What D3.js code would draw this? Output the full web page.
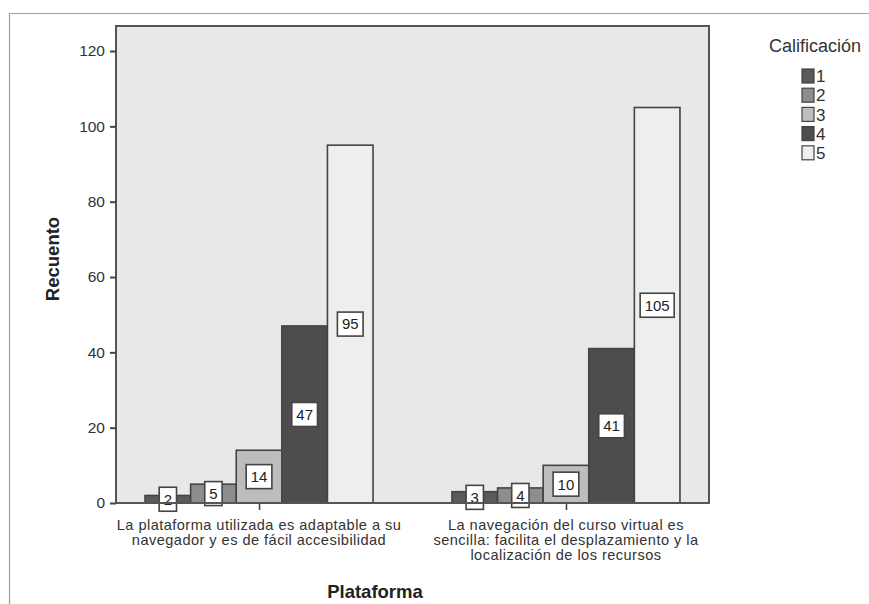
<!DOCTYPE html>
<html>
<head>
<meta charset="utf-8">
<script src="https://cdn.jsdelivr.net/npm/d3@7"></script>
<style>
  html, body { margin: 0; padding: 0; background: #fff; }
  svg { display: block; font-family: "Liberation Sans", Arial, sans-serif; }
</style>
</head>
<body>
<svg id="chart" width="869" height="604"></svg>
<script>
// ---- Data ----
const categories = [
  ["La plataforma utilizada es adaptable a su", "navegador y es de fácil accesibilidad"],
  ["La navegación del curso virtual es", "sencilla: facilita el desplazamiento y la", "localización de los recursos"]
];
const categoryKeys = ["cat1", "cat2"];
const ratings = ["1", "2", "3", "4", "5"];
const values = [
  [2, 5, 14, 47, 95],
  [3, 4, 10, 41, 105]
];
const yTicks = [0, 20, 40, 60, 80, 100, 120];
const colors = ["#5a5a5a", "#8d8d8d", "#bdbdbd", "#4d4d4d", "#eeeeee"];
const legendTitle = "Calificación";
const yTitle = "Recuento";
const xTitle = "Plataforma";

// ---- Layout ----
const svg = d3.select("#chart");
const plot = { left: 116, right: 709, top: 26, bottom: 503 };

// outer frame (cut off at right/bottom)
svg.append("path")
  .attr("d", "M9.5,604 L9.5,13.5 L869,13.5")
  .attr("fill", "none").attr("stroke", "#a0a0a0").attr("stroke-width", 1.2);

const y = d3.scaleLinear().domain([0, 120]).range([plot.bottom, 51]);
const x0 = d3.scalePoint().domain(categoryKeys).range([plot.left, plot.right]).padding(0.466);
const groupWidth = 228;
const x1 = d3.scaleBand().domain(ratings).range([-groupWidth / 2, groupWidth / 2]).padding(0);

// plot background
svg.append("rect")
  .attr("x", plot.left).attr("y", plot.top)
  .attr("width", plot.right - plot.left).attr("height", plot.bottom - plot.top)
  .attr("fill", "#e8e8ea");

// bars
const groups = svg.append("g").selectAll("g")
  .data(categoryKeys).join("g")
  .attr("transform", d => `translate(${x0(d)},0)`);

groups.selectAll("rect.bar")
  .data((d, i) => values[i].map((v, j) => ({ v, r: ratings[j], c: colors[j] })))
  .join("rect").attr("class", "bar")
  .attr("x", d => x1(d.r))
  .attr("width", x1.bandwidth())
  .attr("y", d => y(d.v))
  .attr("height", d => y(0) - y(d.v))
  .attr("fill", d => d.c)
  .attr("stroke", "#444").attr("stroke-width", 1.6);

// plot frame
svg.append("rect")
  .attr("x", plot.left).attr("y", plot.top)
  .attr("width", plot.right - plot.left).attr("height", plot.bottom - plot.top)
  .attr("fill", "none").attr("stroke", "#555").attr("stroke-width", 2);

// value labels
const labels = groups.selectAll("g.lab")
  .data((d, i) => values[i].map((v, j) => ({ v, r: ratings[j] })))
  .join("g").attr("class", "lab")
  .attr("transform", d => `translate(${x1(d.r) + x1.bandwidth() / 2},${(y(d.v) + y(0)) / 2})`);
labels.append("text")
  .attr("text-anchor", "middle").attr("dy", "0.36em")
  .attr("font-size", 15).attr("fill", "#222")
  .text(d => d.v);
labels.each(function () {
  const g = d3.select(this);
  const bb = g.select("text").node().getBBox();
  const w = bb.width + 9, h = 24;
  g.insert("rect", "text")
    .attr("x", -w / 2).attr("y", -h / 2).attr("width", w).attr("height", h)
    .attr("fill", "#fff").attr("stroke", "#444").attr("stroke-width", 1.6);
});

// y axis
const yAxis = svg.append("g")
  .attr("transform", `translate(${plot.left},0)`)
  .call(d3.axisLeft(y).tickValues(yTicks).tickSize(6).tickPadding(5));
yAxis.select(".domain").remove();
yAxis.selectAll("line").attr("stroke", "#444").attr("stroke-width", 2);
yAxis.selectAll("text").attr("font-size", 15.5).attr("fill", "#333")
  .attr("font-family", "Liberation Sans, Arial, sans-serif");

// x axis ticks
const xAxis = svg.append("g")
  .attr("transform", `translate(0,${plot.bottom})`)
  .call(d3.axisBottom(x0).tickSize(7).tickFormat(""));
xAxis.select(".domain").remove();
xAxis.selectAll("line").attr("stroke", "#444").attr("stroke-width", 1.6);

// category labels
categoryKeys.forEach((k, i) => {
  categories[i].forEach((line, li) => {
    svg.append("text")
      .attr("x", x0(k)).attr("y", 530 + li * 14.8)
      .attr("text-anchor", "middle").attr("font-size", 14.6)
      .attr("letter-spacing", 0.45).attr("fill", "#333")
      .text(line);
  });
});

// axis titles
svg.append("text")
  .attr("transform", "translate(59,259) rotate(-90)")
  .attr("text-anchor", "middle").attr("font-size", 18.5).attr("font-weight", "bold")
  .attr("fill", "#222").text(yTitle);
svg.append("text")
  .attr("x", 375).attr("y", 598)
  .attr("text-anchor", "middle").attr("font-size", 18.5).attr("font-weight", "bold")
  .attr("fill", "#222").text(xTitle);

// legend
svg.append("text")
  .attr("x", 815).attr("y", 52)
  .attr("text-anchor", "middle").attr("font-size", 18).attr("fill", "#333")
  .text(legendTitle);
const leg = svg.append("g").selectAll("g")
  .data(ratings).join("g")
  .attr("transform", (d, i) => `translate(802,${76 + i * 19.2})`);
leg.append("rect")
  .attr("x", 0).attr("y", -7).attr("width", 12).attr("height", 14)
  .attr("fill", (d, i) => colors[i]).attr("stroke", "#444").attr("stroke-width", 1.2);
leg.append("text")
  .attr("x", 14).attr("y", 0).attr("dy", "0.36em")
  .attr("font-size", 17).attr("fill", "#333").text(d => d);
</script>
</body>
</html>
